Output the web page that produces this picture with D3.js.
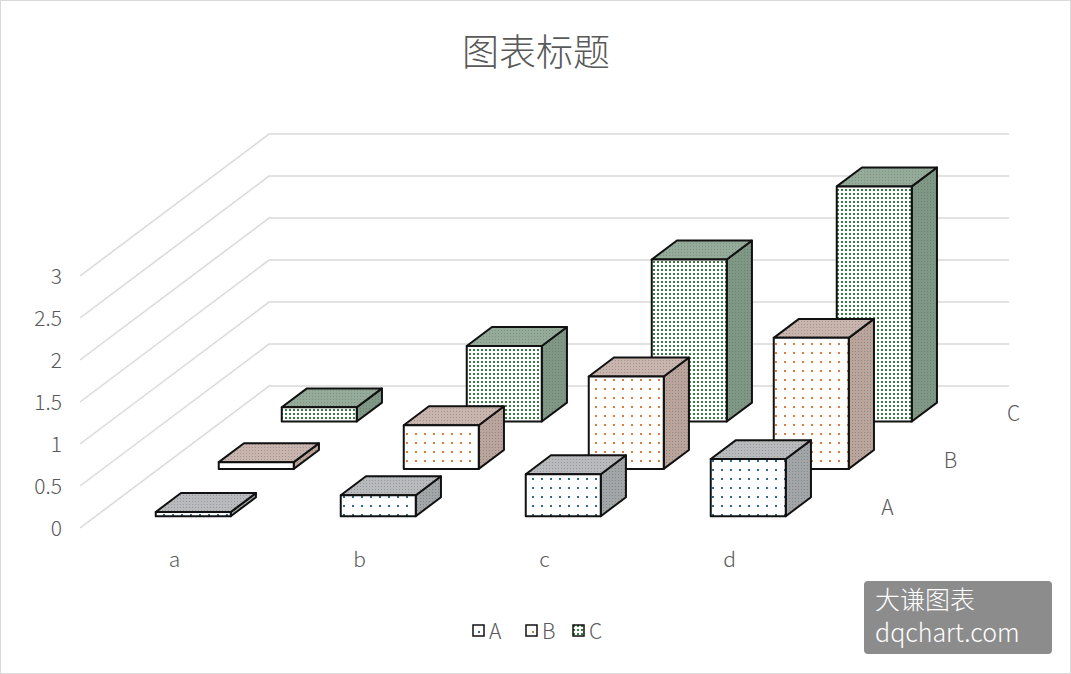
<!DOCTYPE html>
<html><head><meta charset="utf-8">
<script src="https://cdn.jsdelivr.net/npm/d3@7/dist/d3.min.js"></script>
<style>body{margin:0;background:#fff}text{font-family:"Noto Sans CJK SC",sans-serif;font-weight:300}</style>
</head><body><svg id="c" width="1071" height="674"></svg>
<script>
const categories = ["a","b","c","d"];
const seriesNames = ["A","B","C"];
const valuesA = [0.05,0.25,0.5,0.68];
const valuesB = [0.08,0.52,1.1,1.56];
const valuesC = [0.17,0.9,1.93,2.8];
const tickLabels = [0,0.5,1,1.5,2,2.5,3];
const series = [valuesA, valuesB, valuesC];
const dotCol = ["#2f6a94","#e07b39","#3a7d44"];
const sideCol = ["#a3a6a9","#bba49c","#7f9886"];
const topCol = ["#b8babd","#c9b5ae","#93ab98"];

const svg = d3.select("#c");
svg.append("rect").attr("x",0.5).attr("y",0.5).attr("width",1070).attr("height",673).attr("fill","#fff").attr("stroke","#d9d9d9");

const defs = svg.append("defs");
series.forEach((s,i)=>{
  const p = defs.append("pattern").attr("id","f"+i).attr("patternUnits","userSpaceOnUse").attr("width",i==2?4:9).attr("height",i==2?4:9);
  p.append("rect").attr("width",20).attr("height",20).attr("fill","#fff");
  p.append("rect").attr("x",1).attr("y",1).attr("width",2).attr("height",2).attr("fill",dotCol[i]);
  const q = defs.append("pattern").attr("id","s"+i).attr("patternUnits","userSpaceOnUse").attr("width",3).attr("height",3);
  q.append("rect").attr("width",3).attr("height",3).attr("fill",sideCol[i]);
  q.append("rect").attr("width",1).attr("height",1).attr("fill","#5d6a62").attr("opacity",0.5);
  const t = defs.append("pattern").attr("id","t"+i).attr("patternUnits","userSpaceOnUse").attr("width",3).attr("height",3);
  t.append("rect").attr("width",3).attr("height",3).attr("fill",topCol[i]);
  t.append("rect").attr("width",1).attr("height",1).attr("fill","#6a6f6c").attr("opacity",0.45);
});

const x0 = 80, xw = 740, depthStep = [63,-47.3];
const xs = d3.scaleBand().domain(categories).range([x0+5, x0+xw+5]).paddingInner(110/185).paddingOuter(55/185);
const ys = d3.scaleLinear().domain([0,3]).range([528, 528-252]);
const P = (x,d,v)=>[x + d*depthStep[0], ys(v) + d*depthStep[1]];
const pts = a=>a.map(p=>p.join(",")).join(" ");

const g = svg.append("g");
tickLabels.forEach(v=>{
  const a=P(x0,0,v), b=P(x0,3,v), c=P(x0+xw,3,v);
  g.append("polyline").attr("points",pts([a,b,c])).attr("fill","none").attr("stroke","#d9d9d9").attr("stroke-width",1.5);
  g.append("text").attr("x",a[0]-18).attr("y",a[1]+8).attr("text-anchor","end").attr("font-size",21).attr("fill","#595959").text(v);
});

for(let s=2;s>=0;s--){
  const d0 = s+0.25, d1 = s+0.65;
  categories.forEach((c,i)=>{
    const v = series[s][i], xl = xs(c), xr = xl+xs.bandwidth();
    const face=(arr,fill)=>svg.append("polygon").attr("points",pts(arr)).attr("fill",fill).attr("stroke","#111").attr("stroke-width",2).attr("stroke-linejoin","round");
    face([P(xr,d0,0),P(xr,d1,0),P(xr,d1,v),P(xr,d0,v)],`url(#s${s})`);
    face([P(xl,d0,v),P(xr,d0,v),P(xr,d1,v),P(xl,d1,v)],`url(#t${s})`);
    face([P(xl,d0,0),P(xr,d0,0),P(xr,d0,v),P(xl,d0,v)],`url(#f${s})`);
  });
  const lp = P(x0+xw, s+0.5, 0);
  svg.append("text").attr("x",lp[0]+36).attr("y",lp[1]+11).attr("text-anchor","middle").attr("font-size",21).attr("fill","#595959").text(seriesNames[s]);
}
categories.forEach(c=>{
  svg.append("text").attr("x",xs(c)+xs.bandwidth()/2-3).attr("y",567).attr("text-anchor","middle").attr("font-size",21).attr("fill","#595959").text(c);
});

svg.append("text").attr("x",536).attr("y",66).attr("text-anchor","middle").attr("font-size",37).attr("fill","#595959").text("图表标题");

const lx=[473,526,573];
seriesNames.forEach((n,i)=>{
  svg.append("rect").attr("x",lx[i]).attr("y",625).attr("width",11).attr("height",11).attr("fill",`url(#f${i})`).attr("stroke","#111").attr("stroke-width",1.5);
  svg.append("text").attr("x",lx[i]+16).attr("y",639).attr("font-size",21).attr("fill","#595959").text(n);
});

svg.append("rect").attr("x",864).attr("y",581).attr("width",188).attr("height",73).attr("rx",4).attr("fill","#8c8c8c");
svg.append("text").attr("x",875).attr("y",609).attr("font-size",25).attr("font-weight",400).attr("fill","#fff").text("大谦图表");
svg.append("text").attr("x",875).attr("y",642).attr("font-size",25).attr("font-weight",400).attr("fill","#fff").text("dqchart.com");
</script></body></html>
